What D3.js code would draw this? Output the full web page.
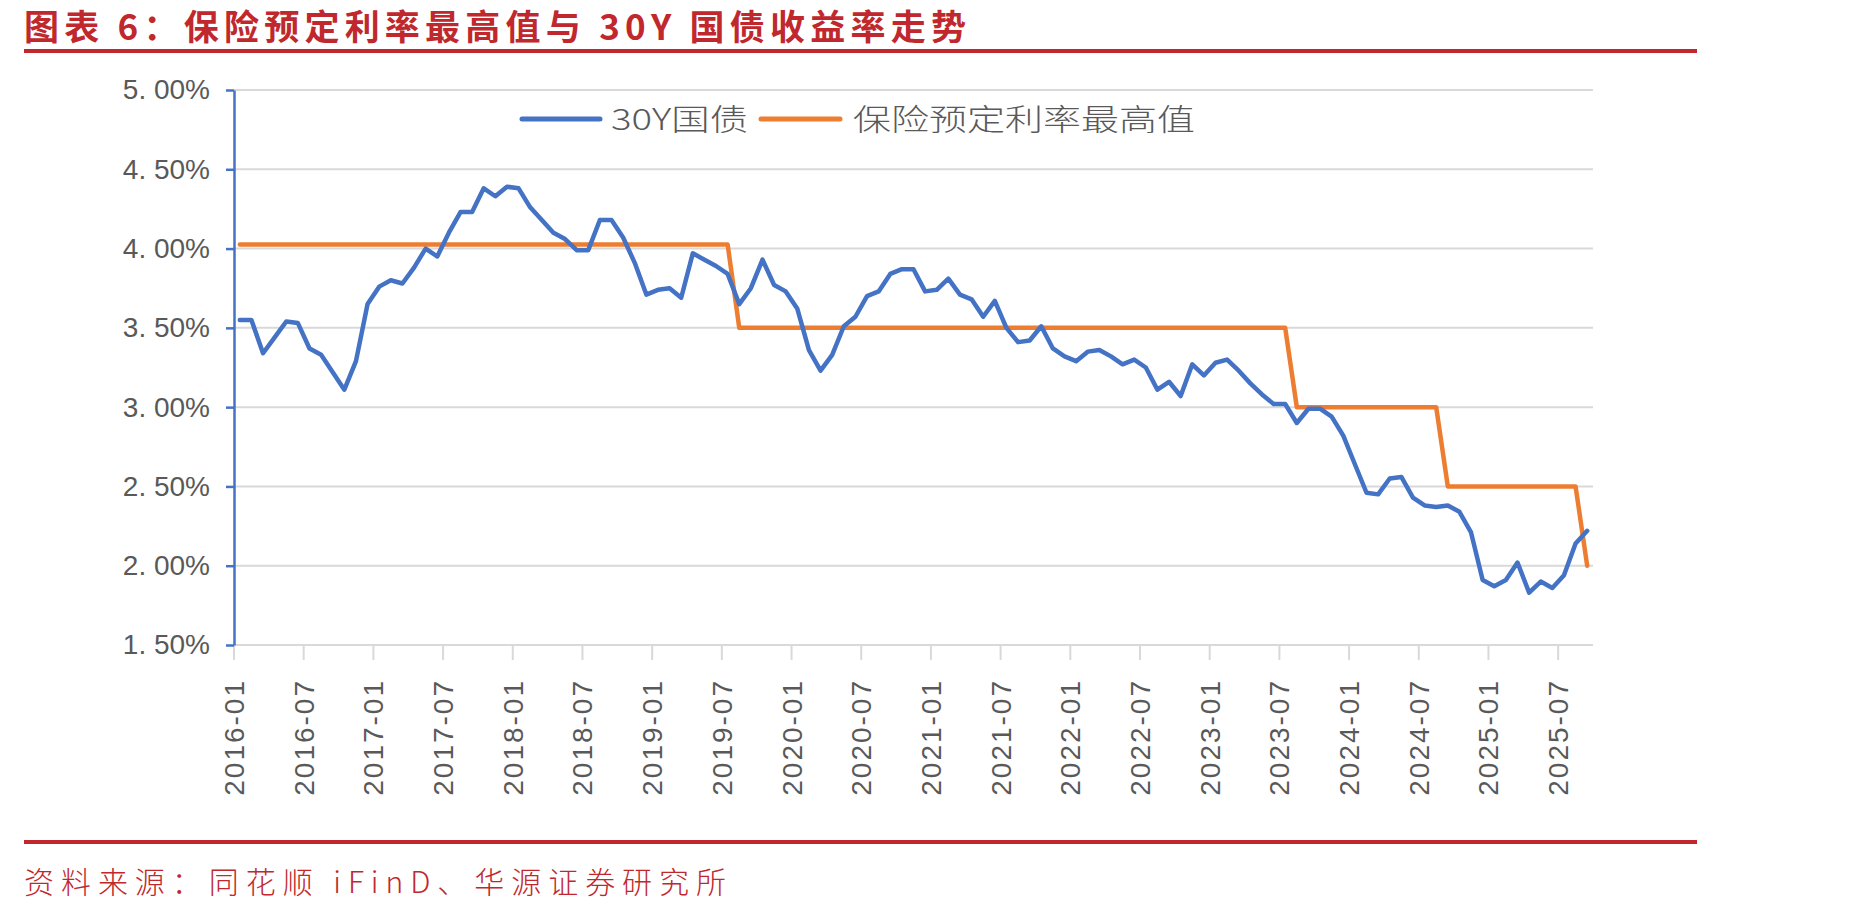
<!DOCTYPE html>
<html>
<head>
<meta charset="utf-8">
<script src="https://cdn.jsdelivr.net/npm/d3@7/dist/d3.min.js"></script>
<style>
body{margin:0;background:#fff;}
svg{display:block;}
</style>
</head>
<body>
<script>
// DATA (monthly, 2016-01 .. 2025-09)
var months = d3.timeMonth.range(new Date(2016, 0, 1), new Date(2025, 9, 1));
var monthKeys = months.map(d3.timeFormat("%Y-%m"));

var bond30y = [
  3.55, 3.55, 3.34, 3.44, 3.54, 3.53, 3.37, 3.33, 3.22, 3.11, 3.29, 3.65,
  3.76, 3.80, 3.78, 3.88, 4.00, 3.95, 4.10, 4.23, 4.23, 4.38, 4.33, 4.39,
  4.38, 4.26, 4.18, 4.10, 4.06, 3.99, 3.99, 4.18, 4.18, 4.07, 3.91, 3.71,
  3.74, 3.75, 3.69, 3.97, 3.93, 3.89, 3.84, 3.65, 3.75, 3.93, 3.77, 3.73,
  3.62, 3.36, 3.23, 3.33, 3.51, 3.57, 3.70, 3.73, 3.84, 3.87, 3.87, 3.73,
  3.74, 3.81, 3.71, 3.68, 3.57, 3.67, 3.50, 3.41, 3.42, 3.51, 3.37, 3.32,
  3.29, 3.35, 3.36, 3.32, 3.27, 3.30, 3.25, 3.11, 3.16, 3.07, 3.27, 3.20,
  3.28, 3.30, 3.23, 3.15, 3.08, 3.02, 3.02, 2.90, 2.99, 2.99, 2.94, 2.82,
  2.64, 2.46, 2.45, 2.55, 2.56, 2.43, 2.38, 2.37, 2.38, 2.34, 2.21, 1.91,
  1.87, 1.91, 2.02, 1.83, 1.90, 1.86, 1.94, 2.14, 2.22
];

var maxRate = [
  4.025, 4.025, 4.025, 4.025, 4.025, 4.025, 4.025, 4.025, 4.025, 4.025, 4.025, 4.025,
  4.025, 4.025, 4.025, 4.025, 4.025, 4.025, 4.025, 4.025, 4.025, 4.025, 4.025, 4.025,
  4.025, 4.025, 4.025, 4.025, 4.025, 4.025, 4.025, 4.025, 4.025, 4.025, 4.025, 4.025,
  4.025, 4.025, 4.025, 4.025, 4.025, 4.025, 4.025, 3.5, 3.5, 3.5, 3.5, 3.5,
  3.5, 3.5, 3.5, 3.5, 3.5, 3.5, 3.5, 3.5, 3.5, 3.5, 3.5, 3.5,
  3.5, 3.5, 3.5, 3.5, 3.5, 3.5, 3.5, 3.5, 3.5, 3.5, 3.5, 3.5,
  3.5, 3.5, 3.5, 3.5, 3.5, 3.5, 3.5, 3.5, 3.5, 3.5, 3.5, 3.5,
  3.5, 3.5, 3.5, 3.5, 3.5, 3.5, 3.5, 3.0, 3.0, 3.0, 3.0, 3.0,
  3.0, 3.0, 3.0, 3.0, 3.0, 3.0, 3.0, 3.0, 2.5, 2.5, 2.5, 2.5,
  2.5, 2.5, 2.5, 2.5, 2.5, 2.5, 2.5, 2.5, 2.0
];

var xTickLabels = ["2016-01","2016-07","2017-01","2017-07","2018-01","2018-07","2019-01",
  "2019-07","2020-01","2020-07","2021-01","2021-07","2022-01","2022-07","2023-01",
  "2023-07","2024-01","2024-07","2025-01","2025-07"];
var yTicks = [1.5, 2.0, 2.5, 3.0, 3.5, 4.0, 4.5, 5.0];
var seriesNames = ["30Y国债", "保险预定利率最高值"];
var colours = ["#4472C4", "#ED7D31"];

var titleText = "图表 6：保险预定利率最高值与 30Y 国债收益率走势";
var sourceText = "资料来源：同花顺 iFinD、华源证券研究所";

drawChart();

function drawChart(){
var width = 1852, height = 914;
var plotLeft = 234, plotRight = 1593, plotTop = 90, plotBottom = 645;
var red = "#C0282E", grey = "#595959", gridColour = "#D9D9D9";

var svg = d3.select("body").append("svg")
  .attr("width", width).attr("height", height)
  .attr("viewBox", [0, 0, width, height]);

var x = d3.scaleBand().domain(monthKeys).range([plotLeft, plotRight]).padding(0);
var y = d3.scaleLinear().domain([1.5, 5]).range([plotBottom, plotTop]);

// title + red rules
svg.append("text")
  .attr("x", 24).attr("y", 40)
  .attr("font-family", "'Noto Sans CJK SC'")
  .attr("font-weight", 700)
  .attr("font-size", 35)
  .attr("fill", red)
  .attr("textLength", 942)
  .attr("lengthAdjust", "spacing")
  .text(titleText);

svg.append("line").attr("x1", 24).attr("x2", 1697).attr("y1", 51).attr("y2", 51)
  .attr("stroke", red).attr("stroke-width", 4);
svg.append("line").attr("x1", 24).attr("x2", 1697).attr("y1", 842).attr("y2", 842)
  .attr("stroke", red).attr("stroke-width", 4);

svg.append("text")
  .attr("x", 24).attr("y", 893)
  .attr("font-family", "'Noto Sans CJK SC'")
  .attr("font-weight", 300)
  .attr("font-size", 30)
  .attr("fill", red)
  .attr("textLength", 702)
  .attr("lengthAdjust", "spacing")
  .text(sourceText);

// gridlines
svg.append("g").selectAll("line").data(yTicks).enter().append("line")
  .attr("x1", plotLeft).attr("x2", plotRight)
  .attr("y1", function(d){return y(d);}).attr("y2", function(d){return y(d);})
  .attr("stroke", gridColour).attr("stroke-width", 2);

// x axis ticks + labels
var xg = svg.append("g");
xg.selectAll("line").data(xTickLabels).enter().append("line")
  .attr("x1", function(d){return x(d);}).attr("x2", function(d){return x(d);})
  .attr("y1", plotBottom).attr("y2", plotBottom + 15)
  .attr("stroke", gridColour).attr("stroke-width", 2);
xg.selectAll("text").data(xTickLabels).enter().append("text")
  .attr("transform", function(d){return "translate(" + (x(d) + 10) + "," + (plotBottom + 34) + ") rotate(-90)";})
  .attr("text-anchor", "end")
  .attr("font-family", "'Liberation Sans', Arial, sans-serif")
  .attr("font-size", 28)
  .attr("letter-spacing", 2)
  .attr("fill", grey)
  .text(function(d){return d;});

// y axis
var yAxis = d3.axisLeft(y).tickValues(yTicks).tickSize(8).tickSizeOuter(0).tickPadding(16)
  .tickFormat(function(d){return d3.format(".2f")(d).replace(".", ". ") + "%";});
var yg = svg.append("g").attr("transform", "translate(" + plotLeft + ",0)").call(yAxis);
yg.select(".domain").attr("stroke", colours[0]).attr("stroke-width", 2.5);
yg.selectAll(".tick line").attr("stroke", colours[0]).attr("stroke-width", 2.5);
yg.selectAll(".tick text")
  .attr("font-family", "'Liberation Sans', Arial, sans-serif")
  .attr("font-size", 28)
  .attr("fill", grey);

// lines
var line = d3.line()
  .x(function(d, i){return x(monthKeys[i]) + x.bandwidth() / 2;})
  .y(function(d){return y(d);});

[maxRate, bond30y].forEach(function(s, k){
  svg.append("path")
    .attr("d", line(s))
    .attr("fill", "none")
    .attr("stroke", k === 0 ? colours[1] : colours[0])
    .attr("stroke-width", 4.5)
    .attr("stroke-linejoin", "round")
    .attr("stroke-linecap", "round");
});

// legend
var legendItems = [
  {name: seriesNames[0], colour: colours[0], x1: 522, x2: 600, tx: 611, tl: 137},
  {name: seriesNames[1], colour: colours[1], x1: 761, x2: 840, tx: 853, tl: 342}
];
var lg = svg.append("g");
legendItems.forEach(function(d){
  lg.append("line").attr("x1", d.x1).attr("x2", d.x2).attr("y1", 119).attr("y2", 119)
    .attr("stroke", d.colour).attr("stroke-width", 5).attr("stroke-linecap", "round");
  lg.append("text").attr("x", d.tx).attr("y", 130)
    .attr("font-family", "'Noto Sans CJK SC'")
    .attr("font-weight", 300)
    .attr("font-size", 30)
    .attr("fill", grey)
    .attr("textLength", d.tl)
    .attr("lengthAdjust", "spacingAndGlyphs")
    .text(d.name);
});
}
</script>
</body>
</html>
